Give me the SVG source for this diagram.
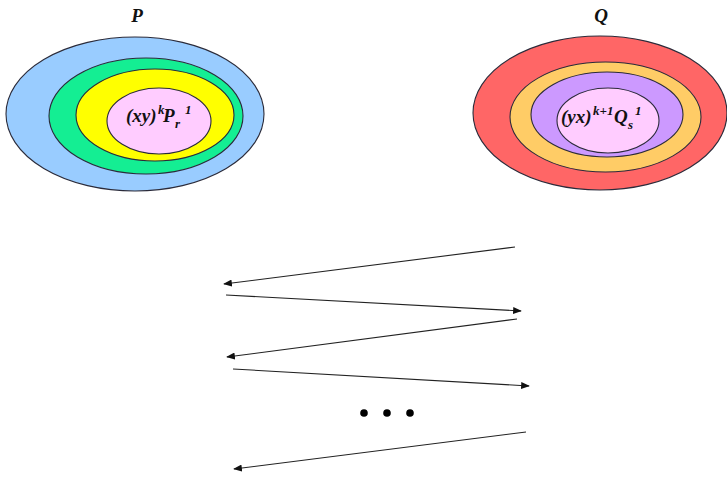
<svg xmlns="http://www.w3.org/2000/svg" width="727" height="493" viewBox="0 0 727 493">
  <style>
    .ring { stroke: #2b2b3a; stroke-width: 1.1; }
    .lbl { font-family: "Liberation Serif", "Times New Roman", serif; font-weight: bold; font-style: italic; fill: #111; }
    .sm { font-size: 13px; }
    .flow { stroke: #222; stroke-width: 1.1; fill: none; marker-end: url(#head); }
  </style>
  <defs>
    <marker id="head" viewBox="0 0 10 8" refX="9" refY="4" markerWidth="9" markerHeight="7" markerUnits="userSpaceOnUse" orient="auto">
      <path d="M0,0 L10,4 L0,8 Z" fill="#111"/>
    </marker>
  </defs>

  <rect width="727" height="493" fill="#fff"/>

  <!-- set P: nested regions -->
  <g id="set-P">
    <text class="lbl" x="137" y="22" font-size="19" text-anchor="middle">P</text>
    <ellipse class="ring" cx="135" cy="114" rx="129" ry="77" fill="#99CCFF"/>
    <ellipse class="ring" cx="146" cy="116" rx="97" ry="58" fill="#14EE93"/>
    <ellipse class="ring" cx="155" cy="115" rx="79" ry="46" fill="#FFFF00"/>
    <ellipse class="ring" cx="159" cy="121" rx="52" ry="33" fill="#FFCCFF"/>
    <text class="lbl" font-size="19">
      <tspan x="126" y="122">(xy)</tspan><tspan class="sm" x="158" y="114">k</tspan><tspan x="163" y="122">P</tspan><tspan class="sm" x="175" y="128">r</tspan><tspan class="sm" x="185" y="114">1</tspan>
    </text>
  </g>

  <!-- set Q: nested regions -->
  <g id="set-Q">
    <text class="lbl" x="601" y="22" font-size="19" text-anchor="middle">Q</text>
    <ellipse class="ring" cx="600" cy="113" rx="127" ry="77" fill="#FF6666"/>
    <ellipse class="ring" cx="605.5" cy="117" rx="95.5" ry="55" fill="#FFCC66"/>
    <ellipse class="ring" cx="607" cy="114.5" rx="76" ry="42.5" fill="#CC99FF"/>
    <ellipse class="ring" cx="608" cy="120.5" rx="51" ry="32.5" fill="#FFCCFF"/>
    <text class="lbl" font-size="19">
      <tspan x="561" y="123">(yx)</tspan><tspan class="sm" x="593" y="115">k+1</tspan><tspan x="614" y="123">Q</tspan><tspan class="sm" x="628" y="129">s</tspan><tspan class="sm" x="635" y="115">1</tspan>
    </text>
  </g>

  <!-- alternating exchanges -->
  <g id="connectors">
    <line class="flow" x1="515" y1="247" x2="224" y2="284"/>
    <line class="flow" x1="226" y1="295" x2="521" y2="311"/>
    <line class="flow" x1="517" y1="319" x2="227" y2="357"/>
    <line class="flow" x1="233" y1="369" x2="529" y2="386"/>
    <line class="flow" x1="526" y1="432" x2="234" y2="469"/>
  </g>

  <!-- continuation dots -->
  <g id="ellipsis" fill="#000">
    <circle cx="364" cy="413" r="3.8"/>
    <circle cx="387" cy="413" r="3.8"/>
    <circle cx="410" cy="413" r="3.8"/>
  </g>
</svg>
